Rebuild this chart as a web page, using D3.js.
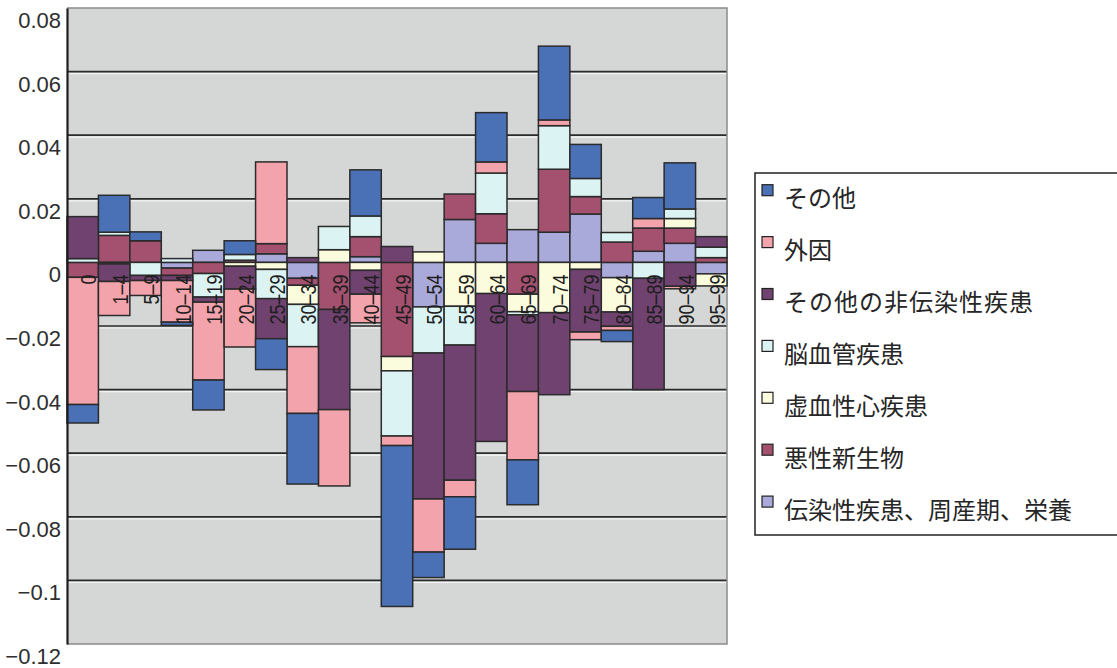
<!DOCTYPE html>
<html>
<head>
<meta charset="utf-8">
<script src="https://cdn.jsdelivr.net/npm/d3@7"></script>
<style>
  html, body { margin: 0; padding: 0; background: #ffffff; }
  svg { display: block; }
</style>
</head>
<body>
<svg id="chart" width="1117" height="668"></svg>
<script>
// Age groups (x categories)
const categories = ["0","1–4","5–9","10–14","15–19","20–24","25–29","30–34","35–39","40–44",
  "45–49","50–54","55–59","60–64","65–69","70–74","75–79","80–84","85–89","90–94","95–99"];

// Contribution of each cause group by age group (stacked from zero outward in this order)
const infectious   = [0, 0, 0, -0.0018, 0.0038, 0, 0.0027, -0.005, 0, 0.0018,
  0, -0.014, 0.0135, 0.006, 0.0103, 0.0095, 0.0152, -0.0048, 0.0035, 0.006, -0.0036];
const neoplasm     = [-0.0047, 0.0085, 0.0068, -0.0023, -0.0035, 0.0007, 0.0032, -0.0022, -0.0148, 0.0063,
  -0.0296, 0, 0.008, 0.0093, -0.010, 0.0198, 0.0055, 0.0064, 0.0073, 0.0048, 0.0015];
const ischemic     = [0, -0.0005, 0, 0, 0, -0.0012, -0.0022, -0.006, 0.004, -0.0025,
  -0.0045, 0.0033, -0.0138, -0.0098, -0.0055, -0.0158, -0.0022, -0.0108, 0, 0.003, -0.0038];
const cerebro      = [0.0012, 0.001, -0.0041, 0.0012, -0.0074, 0.0018, -0.0092, -0.0133, 0.0073, 0.0065,
  -0.0205, -0.0145, -0.0122, 0.0128, -0.001, 0.0137, 0.0057, 0.003, -0.005, 0.003, 0.0033];
const otherNCD     = [0.0132, -0.0055, -0.0016, -0.0016, -0.0016, -0.0072, -0.0126, 0.0015, -0.0315, -0.0075,
  0.005, -0.0459, -0.0425, -0.0465, -0.0241, -0.0258, -0.0197, -0.0045, -0.035, -0.0075, 0.0033];
const external     = [-0.040, -0.0107, -0.0047, -0.0131, -0.0245, -0.0182, 0.0257, -0.021, -0.024, -0.009,
  -0.003, -0.0167, -0.0052, 0.0035, -0.0215, 0.0018, -0.0024, -0.0013, 0.003, -0.0008, 0];
const other        = [-0.0058, 0.0116, 0.0028, -0.001, -0.0094, 0.0043, -0.0097, -0.0222, 0, 0.0145,
  -0.0506, -0.008, -0.0165, 0.0155, -0.0141, 0.0232, 0.0107, -0.0035, 0.0066, 0.0145, 0];

// Series in stacking order (innermost first)
const seriesKeys  = ["infectious","neoplasm","ischemic","cerebro","otherNCD","external","other"];
const seriesNames = ["伝染性疾患、周産期、栄養","悪性新生物","虚血性心疾患","脳血管疾患",
  "その他の非伝染性疾患","外因","その他"];
const seriesColors = ["#a9a9da","#a4506f","#fbfbdd","#dcf3f3","#704270","#f3a3ab","#4a71b6"];
const seriesValues = [infectious, neoplasm, ischemic, cerebro, otherNCD, external, other];

// Y-axis ticks
const yTicks = [0.08, 0.06, 0.04, 0.02, 0, -0.02, -0.04, -0.06, -0.08, -0.1, -0.12];
const yTickLabels = ["0.08","0.06","0.04","0.02","0","−0.02","−0.04","−0.06","−0.08","−0.1","−0.12"];

// Legend lists series outermost first
const legendOrder = [6,5,4,3,2,1,0];

const rows = categories.map((c, i) => {
  const r = { cat: c };
  seriesKeys.forEach((k, s) => { r[k] = seriesValues[s][i]; });
  return r;
});

const svg = d3.select("#chart");
const plot = { left: 67, right: 727, top: 8, bottom: 644 };

const x = d3.scaleBand().domain(categories).range([plot.left, plot.right]).padding(0);
const y = d3.scaleLinear().domain([-0.12, 0.08]).range([plot.bottom, plot.top]);

// Plot background
svg.append("rect")
  .attr("x", plot.left).attr("y", plot.top)
  .attr("width", plot.right - plot.left).attr("height", plot.bottom - plot.top)
  .attr("fill", "#d5d6d6");

// Gridlines
const grid = svg.append("g");
yTicks.filter(t => t < 0.08 && t > -0.12).forEach(t => {
  grid.append("line")
    .attr("x1", plot.left).attr("x2", plot.right)
    .attr("y1", y(t) + 2).attr("y2", y(t) + 2)
    .attr("stroke", "#f4f4f4").attr("stroke-width", 1.2);
  grid.append("line")
    .attr("x1", plot.left).attr("x2", plot.right)
    .attr("y1", y(t)).attr("y2", y(t))
    .attr("stroke", "#2a2a2a").attr("stroke-width", 1.7);
});

// Frame: light border top/right/bottom, dark value axis at left
svg.append("path")
  .attr("d", `M${plot.left},${plot.top}H${plot.right}V${plot.bottom}H${plot.left}`)
  .attr("fill", "none").attr("stroke", "#8a8a8a").attr("stroke-width", 1.5);

// Stacked bars (positive values upward, negative downward)
const stack = d3.stack().keys(seriesKeys).offset(d3.stackOffsetDiverging);
const stacked = stack(rows);

const barsG = svg.append("g");
stacked.forEach((layer, s) => {
  barsG.append("g")
    .attr("fill", seriesColors[s])
    .attr("stroke", "#2b2b2b").attr("stroke-width", 1.5)
    .selectAll("rect")
    .data(layer.filter(d => Math.abs(d[1] - d[0]) > 1e-9))
    .join("rect")
    .attr("x", d => x(d.data.cat))
    .attr("width", x.bandwidth())
    .attr("y", d => y(Math.max(d[0], d[1])))
    .attr("height", d => Math.abs(y(d[0]) - y(d[1])));
});

// Value axis
const yAxis = d3.axisLeft(y).tickValues(yTicks).tickSize(0)
  .tickFormat((d, i) => yTickLabels[i]);
const yAxisG = svg.append("g").attr("transform", `translate(${plot.left},0)`).call(yAxis);
yAxisG.select(".domain").attr("stroke", "#1e1e1e").attr("stroke-width", 2.2);
yAxisG.selectAll("text")
  .attr("x", -6).attr("dy", null).attr("y", 12)
  .attr("dominant-baseline", "central")
  .attr("fill", "#2e2e2e")
  .attr("font-family", "'Liberation Sans', Arial, sans-serif")
  .attr("font-size", 22);

// Category labels, vertical, just below the zero line
const catG = svg.append("g");
catG.selectAll("text")
  .data(categories)
  .join("text")
  .attr("transform", d => `translate(${x(d) + x.bandwidth() / 2 + 6},${y(0) + 12}) rotate(-90) scale(0.82,1)`)
  .attr("text-anchor", "end")
  .attr("dominant-baseline", "central")
  .attr("fill", "#1e1e1e")
  .attr("font-family", "'Liberation Sans', Arial, sans-serif")
  .attr("font-size", 22)
  .text(d => d);

// Legend
const lg = svg.append("g");
lg.append("rect")
  .attr("x", 755).attr("y", 173).attr("width", 380).attr("height", 362)
  .attr("fill", "#ffffff").attr("stroke", "#222").attr("stroke-width", 1.5);
legendOrder.forEach((s, i) => {
  const cy = 196.7 + i * 51.9;
  lg.append("rect")
    .attr("x", 762).attr("y", cy - 12).attr("width", 11).attr("height", 11)
    .attr("fill", seriesColors[s]).attr("stroke", "#222").attr("stroke-width", 1.2);
  lg.append("text")
    .attr("x", 784).attr("y", cy)
    .attr("dominant-baseline", "central")
    .attr("fill", "#262626")
    .attr("font-family", "'Noto Sans CJK JP', sans-serif")
    .attr("font-size", 24)
    .attr("letter-spacing", s === 4 ? 1 : 0)
    .text(seriesNames[s]);
});
</script>
</body>
</html>
